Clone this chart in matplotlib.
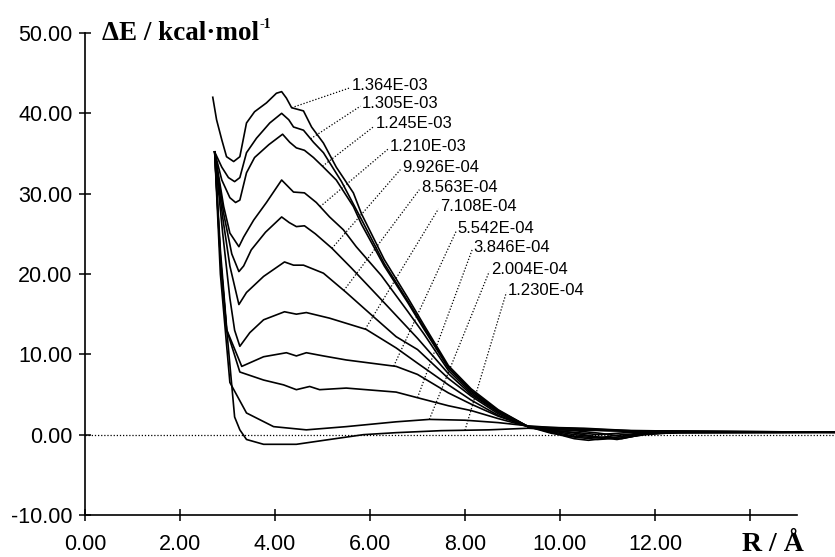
"""
energy profiles dE(R) for a set of field strengths, redrawn with matplotlib
"""
import numpy as np
import matplotlib
matplotlib.use("Agg")
import matplotlib.pyplot as plt

# field strengths, top curve first
labels = ["1.364E-03", "1.305E-03", "1.245E-03", "1.210E-03", "9.926E-04",
          "8.563E-04", "7.108E-04", "5.542E-04", "3.846E-04", "2.004E-04",
          "1.230E-04"]

r1 = [2.69, 2.77, 2.88, 2.98, 3.13, 3.26, 3.40, 3.57, 3.82, 4.03, 4.14, 4.24, 4.35, 4.60, 4.77,
      5.02, 5.29, 5.65, 5.82, 6.30, 6.80, 7.14, 7.65, 8.13, 8.70, 9.33, 9.80, 10.30, 10.80,
      11.30, 11.80, 12.50, 13.50, 14.50, 15.80]
e1 = [42.0, 39.2, 36.7, 34.6, 34.0, 34.6, 38.8, 40.2, 41.3, 42.5, 42.7, 41.9, 40.7, 40.3, 38.3,
      36.3, 33.3, 30.1, 27.5, 21.8, 17.0, 13.6, 8.6, 5.7, 3.1, 1.0, 0.2, -0.3, -0.6,
      -0.4, 0.0, 0.3, 0.35, 0.3, 0.35]

r2 = [2.73, 2.88, 3.02, 3.15, 3.26, 3.40, 3.61, 3.89, 4.14, 4.29, 4.39, 4.60, 4.81, 5.02, 5.40,
      5.82, 6.30, 6.80, 7.14, 7.65, 8.13, 8.70, 9.33, 9.80, 10.30, 10.80, 11.20, 11.80, 12.50,
      13.50, 15.80]
e2 = [35.2, 33.3, 32.0, 31.5, 32.0, 35.1, 36.9, 38.8, 40.0, 39.2, 38.3, 37.9, 36.4, 35.1, 31.5,
      26.8, 21.3, 16.6, 13.3, 8.4, 5.5, 3.0, 1.0, 0.5, 0.0, -0.3, -0.6, 0.1, 0.3,
      0.3, 0.3]

r3 = [2.73, 2.88, 3.05, 3.17, 3.26, 3.40, 3.57, 3.87, 4.16, 4.31, 4.45, 4.62, 4.81, 5.02, 5.29,
      5.65, 5.82, 6.30, 6.80, 7.14, 7.65, 8.13, 8.70, 9.33, 9.80, 10.30, 10.60, 11.20, 11.80,
      12.50, 15.80]
e3 = [35.2, 31.7, 29.5, 28.9, 29.2, 32.6, 34.5, 36.1, 37.4, 36.4, 35.7, 35.4, 34.5, 33.3, 31.7,
      28.4, 26.2, 21.0, 16.4, 13.1, 8.3, 5.4, 2.9, 1.0, 0.3, -0.5, -0.7, -0.3, 0.2,
      0.3, 0.3]

r4 = [2.73, 2.92, 3.05, 3.24, 3.34, 3.55, 3.82, 4.14, 4.29, 4.39, 4.62, 4.87, 5.15, 5.44, 5.71,
      6.24, 6.80, 7.14, 7.65, 8.13, 8.70, 9.33, 9.80, 10.30, 10.80, 11.30, 11.80, 12.50, 15.80]
e4 = [35.2, 28.4, 25.1, 23.4, 24.6, 26.7, 28.9, 31.7, 30.8, 30.2, 30.1, 28.9, 27.1, 25.5, 23.4,
      19.8, 15.3, 12.5, 8.0, 5.2, 2.8, 1.0, 0.6, 0.2, -0.3, -0.5, 0.1, 0.3, 0.3]

r5 = [2.73, 2.92, 3.09, 3.24, 3.34, 3.50, 3.80, 4.14, 4.30, 4.45, 4.62, 4.85, 5.20, 5.60, 6.00,
      6.24, 7.00, 7.65, 8.13, 8.70, 9.33, 9.80, 10.30, 10.80, 11.30, 12.00, 15.80]
e5 = [35.2, 27.5, 22.5, 20.3, 21.0, 23.0, 25.2, 27.1, 26.4, 25.9, 26.0, 25.0, 23.2, 20.8, 18.3,
      16.8, 12.0, 7.6, 5.0, 2.8, 1.0, 0.4, -0.2, -0.4, 0.0, 0.3, 0.3]

r6 = [2.73, 2.90, 3.05, 3.24, 3.40, 3.76, 4.20, 4.39, 4.60, 5.02, 5.50, 6.07, 6.55, 7.00, 7.65,
      8.13, 8.70, 9.33, 9.80, 10.30, 10.80, 11.30, 12.00, 15.80]
e6 = [35.2, 27.0, 21.0, 16.2, 17.7, 19.7, 21.5, 21.1, 21.1, 20.1, 17.7, 14.7, 12.2, 10.6, 7.0,
      4.8, 2.6, 1.0, 0.7, 0.5, 0.2, -0.2, 0.2, 0.3]

r7 = [2.73, 2.90, 3.05, 3.15, 3.26, 3.47, 3.76, 4.20, 4.45, 4.66, 5.15, 5.92, 6.55, 7.00, 7.65,
      8.13, 8.70, 9.33, 9.80, 10.30, 10.80, 11.50, 15.80]
e7 = [35.2, 25.0, 17.0, 13.0, 11.0, 12.7, 14.3, 15.3, 15.0, 15.2, 14.5, 13.1, 10.8, 8.9, 6.2,
      4.3, 2.4, 1.0, 0.5, 0.3, 0.0, 0.3, 0.3]

r8 = [2.73, 2.85, 2.98, 3.30, 3.76, 4.24, 4.45, 4.66, 5.02, 5.50, 6.55, 7.00, 7.65, 8.13, 8.70,
      9.33, 9.80, 10.30, 11.00, 12.00, 15.80]
e8 = [35.2, 22.0, 13.1, 8.5, 9.7, 10.2, 9.8, 10.2, 9.8, 9.3, 8.5, 7.5, 5.2, 3.8, 2.3,
      1.0, 0.8, 0.7, 0.5, 0.3, 0.3]

r9 = [2.73, 2.85, 2.98, 3.26, 3.76, 4.18, 4.45, 4.73, 4.94, 5.50, 6.55, 7.00, 7.65, 8.13, 8.70,
      9.33, 9.80, 10.50, 11.50, 15.80]
e9 = [35.2, 22.0, 13.1, 7.8, 6.8, 6.2, 5.6, 6.0, 5.6, 5.8, 5.3, 4.6, 3.6, 3.0, 2.0,
      1.0, 0.9, 0.7, 0.5, 0.3]

r10 = [2.73, 2.85, 3.05, 3.40, 3.97, 4.66, 5.50, 6.55, 7.25, 8.00, 8.70, 9.33, 9.80, 10.50,
       11.50, 15.80]
e10 = [35.2, 20.0, 6.5, 2.7, 1.0, 0.6, 1.0, 1.6, 1.9, 1.8, 1.5, 1.1, 0.9, 0.8,
       0.5, 0.3]

r11 = [2.73, 2.85, 3.00, 3.15, 3.26, 3.40, 3.76, 4.45, 5.15, 5.86, 6.55, 7.50, 8.50, 9.33,
       10.00, 11.00, 12.00, 15.80]
e11 = [35.2, 23.0, 12.0, 2.2, 0.6, -0.6, -1.2, -1.2, -0.6, 0.0, 0.25, 0.5, 0.6, 0.8,
       0.6, 0.5, 0.4, 0.3]

# where each label's dotted leader touches its curve (R in Angstrom)
leader_r = [4.35, 4.75, 5.0, 4.95, 5.2, 5.45, 5.9, 6.5, 7.0, 7.25, 8.0]
# label anchors (left edge, middle) in data units
label_r = [5.62, 5.83, 6.12, 6.42, 6.67, 7.07, 7.47, 7.85, 8.18, 8.54, 8.90]
label_e = [43.5, 41.2, 38.7, 35.9, 33.3, 30.8, 28.4, 25.7, 23.3, 20.6, 18.0]

xticks = [0, 2, 4, 6, 8, 10, 12, 14]
xticklabels = ["0.00", "2.00", "4.00", "6.00", "8.00", "10.00", "12.00", ""]
yticks = [-10, 0, 10, 20, 30, 40, 50]
yticklabels = ["-10.00", "0.00", "10.00", "20.00", "30.00", "40.00", "50.00"]


def main():
    sans = "Liberation Sans"
    serif = "Liberation Serif"
    plt.rcParams["font.family"] = sans

    curves = [(r1, e1), (r2, e2), (r3, e3), (r4, e4), (r5, e5), (r6, e6),
              (r7, e7), (r8, e8), (r9, e9), (r10, e10), (r11, e11)]

    fig = plt.figure(figsize=(8.35, 5.57), dpi=100)
    ax = fig.add_axes([85 / 835, 42 / 557, 750 / 835, 482 / 557])
    ax.set_xlim(0, 15.79)
    ax.set_ylim(-10, 50)

    # dotted zero line
    ax.axhline(0, color="k", lw=0.9, ls=(0, (1, 1.5)), zorder=1)

    for r, e in curves:
        ax.plot(r, e, color="k", lw=1.2, zorder=3)

    # labels with dotted leaders
    for i, (r, e) in enumerate(curves):
        x_end = leader_r[i]
        y_end = np.interp(x_end, r, e)
        ax.plot([x_end, label_r[i] - 0.03], [y_end, label_e[i] - 0.3],
                color="k", lw=0.9, ls=(0, (1, 1.5)), zorder=2)
        ax.text(label_r[i], label_e[i], labels[i], ha="left", va="center",
                fontsize=12, family=sans)

    for s in ["top", "right"]:
        ax.spines[s].set_visible(False)
    ax.spines["left"].set_bounds(-10, 50)
    ax.spines["bottom"].set_bounds(0, 15)
    for s in ["left", "bottom"]:
        ax.spines[s].set_linewidth(1.2)

    ax.set_xticks(xticks)
    ax.set_xticklabels(xticklabels)
    ax.set_yticks(yticks)
    ax.set_yticklabels(yticklabels)
    ax.tick_params(axis="both", direction="inout", length=8, width=1.1,
                   labelsize=15.5)
    ax.tick_params(axis="y", pad=5)
    ax.tick_params(axis="x", pad=10)

    t = ax.text(0.35, 50, "\u0394E / kcal\u00b7mol", ha="left", va="center",
                fontsize=19.5, fontweight="bold", family=serif)
    ax.annotate("-1", xy=(1, 1), xycoords=t, xytext=(0.5, 2),
                textcoords="offset points", ha="left", va="top",
                fontsize=10, fontweight="bold", family=serif)
    ax.text(13.83, -13.7, "R / \u00c5", ha="left", va="center",
            fontsize=20, fontweight="bold", family=serif, clip_on=False)

    fig.savefig("out.png", dpi=100)


if __name__ == "__main__":
    main()
